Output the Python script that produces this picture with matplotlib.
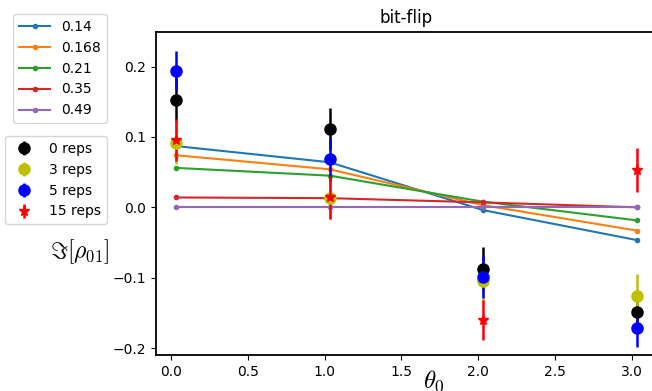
import numpy as np
from matplotlib import pyplot

pyplot.rcParams['mathtext.fontset'] = 'cm'


#rotation angles and model curves for each noise probability:
theta    = [0.033, 1.033, 2.033, 3.033]
probs    = ['0.14', '0.168', '0.21', '0.35', '0.49']
model    = [
	[0.087, 0.064, -0.004, -0.0465],
	[0.074, 0.054,  0.003, -0.033],
	[0.056, 0.045,  0.008, -0.0185],
	[0.014, 0.013,  0.007,  0.0],
	[0.000, 0.000,  0.000,  0.0],
]

#measured values for different numbers of repetitions:
reps     = ['0 reps', '3 reps', '5 reps', '15 reps']
meas     = [
	[0.153, 0.111, -0.087, -0.149],
	[0.092, 0.013, -0.105, -0.126],
	[0.194, 0.068, -0.099, -0.172],
	[0.096, 0.014, -0.160,  0.053],
]
errs     = [
	[0.030, 0.030, 0.030, 0.030],
	[0.030, 0.030, 0.030, 0.031],
	[0.028, 0.030, 0.030, 0.027],
	[0.030, 0.030, 0.029, 0.031],
]


#plot:
pyplot.close('all')
fig = pyplot.figure( figsize=(6.52,3.91), dpi=100 )
ax = pyplot.axes([0.2393, 0.0908, 0.768, 0.828])
for s in ax.spines.values():
	s.set_linewidth(1.3)
lines = []
for y,lab in zip(model, probs):
	h, = ax.plot(theta, y, '.-', label=lab)
	lines.append(h)
colors  = 'k', 'y', 'b', 'r'
markers = 'o', 'o', 'o', '*'
ebars = []
for y,e,c,m,lab in zip(meas, errs, colors, markers, reps):
	h = ax.errorbar(theta, y, yerr=e, fmt=m, color=c, ms=8, elinewidth=1.8, label=lab)
	ebars.append(h)
ax.set_xlim(-0.098, 3.164)
ax.set_ylim(-0.2105, 0.2494)
ax.set_xticks([0, 0.5, 1.0, 1.5, 2.0, 2.5, 3.0])
ax.set_yticks([-0.2, -0.1, 0.0, 0.1, 0.2])
ax.set_title('bit-flip', size=12)
ax.set_xlabel(r'$\theta_0$', size=18)
ax.xaxis.set_label_coords(0.555, -0.04)
ax.set_ylabel(r'$\Im[\rho_{01}]$', size=17, rotation=0, ha='center', va='center')
ax.yaxis.set_label_coords(-0.152, 0.32)
leg1 = fig.legend(handles=lines, loc='upper left', bbox_to_anchor=(0.0199, 0.964),
                  borderaxespad=0, handlelength=2.3)
leg2 = fig.legend(handles=ebars, loc='upper left', bbox_to_anchor=(0.0077, 0.652),
                  borderaxespad=0)
pyplot.savefig('out.png', dpi=100)
